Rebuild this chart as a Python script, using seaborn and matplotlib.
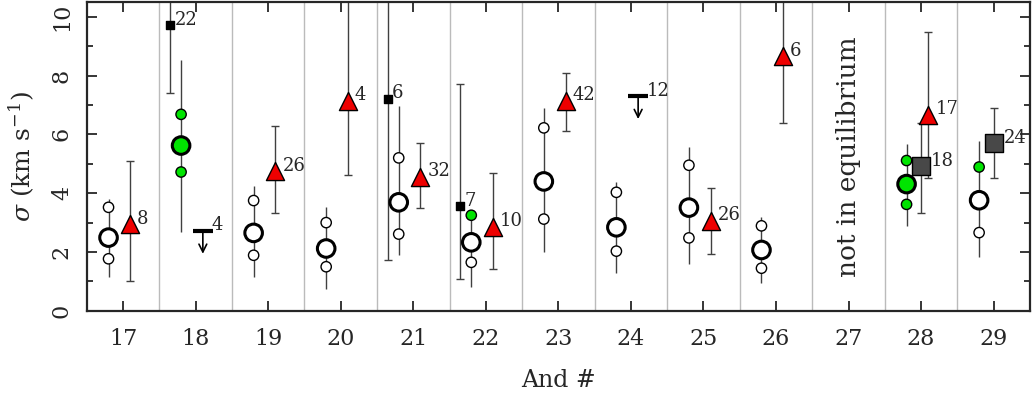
import numpy as np
import pandas as pd
import matplotlib
matplotlib.use("Agg")
import matplotlib.pyplot as plt
import seaborn as sns
from matplotlib.ticker import MultipleLocator

# === Data ===
galaxies = list(range(17, 30))

# open / green circles: central value, two small points, and the line extent
circ_gal = [17, 18, 19, 20, 21, 22, 23, 24, 25, 26, 28, 29]
circ_mid = [2.49, 5.62, 2.65, 2.12, 3.69, 2.33, 4.40, 2.84, 3.51, 2.07, 4.31, 3.76]
circ_hi = [3.52, 6.68, 3.75, 3.00, 5.20, 3.25, 6.22, 4.03, 4.95, 2.89, 5.11, 4.89]
circ_lo = [1.77, 4.72, 1.89, 1.50, 2.61, 1.65, 3.12, 2.03, 2.48, 1.45, 3.62, 2.66]
circ_top = [3.80, 8.52, 4.26, 3.53, 6.98, 3.25, 6.91, 4.38, 5.56, 3.19, 5.68, 5.79]
circ_bot = [1.16, 2.69, 1.16, 0.76, 1.90, 0.80, 2.00, 1.28, 1.61, 0.94, 2.90, 1.82]
mid_green = [18, 28]
hi_green = [18, 22, 28, 29]
lo_green = [18, 28]

# red triangles
tri_gal = [17, 19, 20, 21, 22, 23, 25, 26, 28]
tri_val = [2.95, 4.75, 7.15, 4.55, 2.85, 7.15, 3.06, 8.65, 6.66]
tri_top = [5.10, 6.30, 11.0, 5.70, 4.70, 8.10, 4.19, 11.0, 9.49]
tri_bot = [1.02, 3.31, 4.63, 3.51, 1.42, 6.11, 1.92, 6.40, 4.50]
tri_n = [8, 26, 4, 32, 10, 42, 26, 6, 17]

# small black squares
bsq_gal = [18, 21, 22]
bsq_val = [9.71, 7.20, 3.55]
bsq_top = [11.0, 11.0, 7.70]
bsq_bot = [7.40, 1.72, 1.07]
bsq_n = [22, 6, 7]

# grey squares
gsq_gal = [28, 29]
gsq_val = [4.91, 5.70]
gsq_top = [6.40, 6.90]
gsq_bot = [3.31, 4.50]
gsq_n = [18, 24]

# upper limits
ul_gal = [18, 24]
ul_val = [2.72, 7.30]
ul_n = [4, 12]

# === Style ===
sns.set_style("ticks")
plt.rcParams["font.family"] = ["DejaVu Serif"]
plt.rcParams["mathtext.fontset"] = "dejavuserif"

fig = plt.figure(figsize=(10.33, 3.94), dpi=100)
ax = fig.add_axes([0.084, 0.211, 0.913, 0.784])

ecol = "#404040"
green = "#00e400"

# separators
for g in galaxies[:-1]:
    ax.axvline(g + 0.5, color="#bbbbbb", lw=1.0, zorder=0)

# circles
circ = pd.DataFrame({"gal": circ_gal, "mid": circ_mid, "hi": circ_hi, "lo": circ_lo,
                     "top": circ_top, "bot": circ_bot})
circ["x"] = circ["gal"] - 0.2
ax.vlines(circ["x"], circ["bot"], circ["top"], color=ecol, lw=1.0, zorder=1)
circ["mid_c"] = np.where(circ["gal"].isin(mid_green), green, "white")
circ["hi_c"] = np.where(circ["gal"].isin(hi_green), green, "white")
circ["lo_c"] = np.where(circ["gal"].isin(lo_green), green, "white")
for col, ccol in [("hi", "hi_c"), ("lo", "lo_c")]:
    sns.scatterplot(x=circ["x"], y=circ[col], ax=ax, s=55, c=circ[ccol],
                    edgecolor="black", linewidth=1.0, zorder=3, legend=False)
sns.scatterplot(x=circ["x"], y=circ["mid"], ax=ax, s=160, c=circ["mid_c"],
                edgecolor="black", linewidth=2.2, zorder=3, legend=False)

def bars(xs, vals, tops, bots, marker, size, fc, lab, dx=6):
    ax.errorbar(xs, vals, yerr=[np.array(vals) - np.array(bots), np.array(tops) - np.array(vals)],
                fmt="none", ecolor=ecol, elinewidth=1.0, capsize=3, capthick=1.0, zorder=2)
    sns.scatterplot(x=xs, y=vals, ax=ax, marker=marker, s=size, color=fc,
                    edgecolor="black", linewidth=1.0, zorder=4, legend=False)
    for x, v, n in zip(xs, vals, lab):
        ax.annotate(str(n), (x, v), xytext=(dx, 4), textcoords="offset points",
                    ha="left", va="center", fontsize=13, zorder=5)

tri_x = [g + 0.1 for g in tri_gal]
bars(tri_x, tri_val, tri_top, tri_bot, "^", 170, "#ee0000", tri_n, dx=5)
bsq_x = [g - 0.35 for g in bsq_gal]
bars(bsq_x, bsq_val, bsq_top, bsq_bot, "s", 40, "black", bsq_n, dx=3)
gsq_x = [g + 0.0 for g in gsq_gal]
bars(gsq_x, gsq_val, gsq_top, gsq_bot, "s", 150, "#484848", gsq_n, dx=7)

# upper limits
ul_x = [g + 0.1 for g in ul_gal]
sns.scatterplot(x=ul_x, y=ul_val, ax=ax, marker="_", s=200, color="black",
                linewidth=3, zorder=4, legend=False)
for x, v, n in zip(ul_x, ul_val, ul_n):
    ax.annotate("", xy=(x, v - 0.78), xytext=(x, v),
                arrowprops=dict(arrowstyle="->", color="black", lw=1.2,
                                mutation_scale=14, shrinkA=0, shrinkB=0))
    ax.annotate(str(n), (x, v), xytext=(6, 4), textcoords="offset points",
                ha="left", va="center", fontsize=13)

ax.text(27, 5.25, "not in equilibrium", rotation=90, ha="center", va="center",
        fontsize=19)

# axes
ax.set_xlim(16.5, 29.5)
ax.set_ylim(0, 10.5)
ax.set_xticks(galaxies)
ax.yaxis.set_major_locator(MultipleLocator(2))
ax.yaxis.set_minor_locator(MultipleLocator(1))
ax.tick_params(which="both", direction="in", top=True, right=True, width=1.3)
ax.tick_params(which="major", length=7, labelsize=16, pad=12)
ax.tick_params(which="minor", length=4)
ax.tick_params(axis="y", labelrotation=90, pad=10)
for lab in ax.get_yticklabels():
    lab.set_va("center")
for s in ax.spines.values():
    s.set_linewidth(1.6)

ax.set_xlabel("And #", fontsize=17, labelpad=14)
ax.set_ylabel(r"$\sigma$ (km s$^{-1}$)", fontsize=18, labelpad=10)

fig.savefig("out.png", dpi=100)
